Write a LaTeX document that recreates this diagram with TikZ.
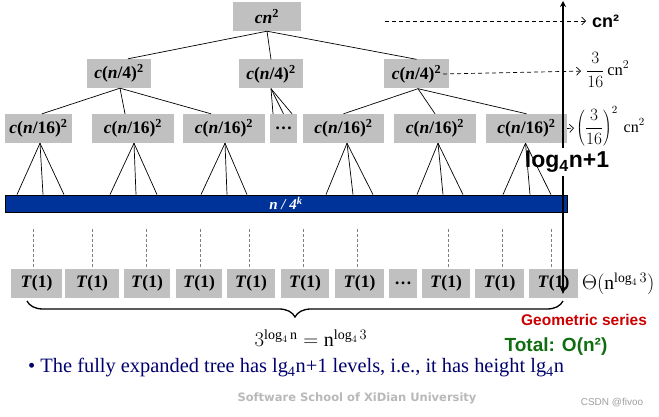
\documentclass[tikz,border=0pt]{standalone}
\usepackage{fontspec}
\setmainfont{Liberation Serif}
\setsansfont{Liberation Sans}
\newfontfamily\dejavu{DejaVu Sans}
\usetikzlibrary{arrows.meta,decorations.pathreplacing,calc}
\definecolor{boxgray}{RGB}{192,192,192}
\definecolor{barblue}{RGB}{0,51,153}
\definecolor{navytext}{RGB}{0,0,110}
\definecolor{redtext}{RGB}{204,0,0}
\definecolor{greentext}{RGB}{16,110,16}
\definecolor{lightgraytext}{RGB}{185,185,185}
\definecolor{csdngray}{RGB}{160,160,160}
\tikzset{
  box/.style={fill=boxgray, inner sep=0pt, minimum height=29pt, font=\fontsize{17.5}{20}\selectfont\rmfamily\bfseries},
  edge/.style={line width=0.7pt},
  vdash/.style={gray, line width=0.6pt, dash pattern=on 3pt off 2pt},
  harr/.style={line width=0.7pt, dash pattern=on 4pt off 3pt, -{Straight Barb[length=4pt,width=8pt]}},
  axis/.style={line width=2pt},
}
\begin{document}
\begin{tikzpicture}[x=1pt,y=-1pt]
\useasboundingbox[fill=white] (0,0) rectangle (659,417);

% tree boxes
\node[box, minimum width=68pt] (root) at (267,16.5) {\textit{cn}\textsuperscript{2}};
\node[box, minimum width=64pt] (l1a) at (119,73.5) {\textit{c}(\textit{n}/4)\textsuperscript{2}};
\node[box, minimum width=64pt] (l1b) at (271,74) {\textit{c}(\textit{n}/4)\textsuperscript{2}};
\node[box, minimum width=65pt] (l1c) at (416.5,74) {\textit{c}(\textit{n}/4)\textsuperscript{2}};

\node[box, minimum width=67pt] (l2a) at (38.5,128.5) {\textit{c}(\textit{n}/16)\textsuperscript{2}};
\node[box, minimum width=82pt] (l2b) at (133,128.5) {\textit{c}(\textit{n}/16)\textsuperscript{2}};
\node[box, minimum width=82pt] (l2c) at (224,128.5) {\textit{c}(\textit{n}/16)\textsuperscript{2}};
\node[box, minimum width=27pt] (l2d) at (283.5,128.5) {…};
\node[box, minimum width=81pt] (l2e) at (343.5,128.5) {\textit{c}(\textit{n}/16)\textsuperscript{2}};
\node[box, minimum width=82pt] (l2f) at (435,128.5) {\textit{c}(\textit{n}/16)\textsuperscript{2}};
\node[box, minimum width=81pt] (l2g) at (526.5,128.5) {\textit{c}(\textit{n}/16)\textsuperscript{2}};

% bar
\node[draw=black, line width=0.8pt, fill=barblue, minimum width=562pt, minimum height=17pt, inner sep=0pt,
      text=white, font=\fontsize{15}{16}\selectfont\rmfamily\bfseries\itshape] (bar) at (286,203.5) {n / 4\textsuperscript{k}};

% T(1) row
\foreach \n/\x/\w in {1/36.5/51, 2/92/54, 3/147/46, 4/199/46, 5/251/48, 6/305/48, 7/359.5/49, 9/446/48, 10/499.5/49, 11/553.5/49}
  \node[box, minimum width=\w pt] (t\n) at (\x,283.5) {\textit{T}(1)};
\node[box, minimum width=28pt] (t8) at (403,283.5) {…};

% edges root -> level 1
\draw[edge] (root.south) -- ([xshift=9pt]l1a.north);
\draw[edge] (root.south) -- (l1b.north);
\draw[edge] (root.south) -- (l1c.north);

% level 1 -> level 2
\draw[edge] ([xshift=1pt]l1a.south) -- ([xshift=3.5pt]l2a.north);
\draw[edge] ([xshift=1pt]l1a.south) -- ([xshift=-8pt]l2b.north);
\draw[edge] ([xshift=1pt]l1a.south) -- ([xshift=-13pt]l2c.north);
\draw[edge] (l1b.south) -- ([xshift=-10.5pt]l2d.north);
\draw[edge] (l1b.south) -- (l2d.north);
\draw[edge] (l1b.south) -- ([xshift=8.5pt]l2d.north);
\draw[edge] ([xshift=1.5pt]l1c.south) -- (l2e.north);
\draw[edge] ([xshift=1.5pt]l1c.south) -- (l2f.north);
\draw[edge] ([xshift=1.5pt]l1c.south) -- (l2g.north);

% level 2 -> bar
\foreach \b/\a/\p/\q/\r in {l2a/1.5/-21.5/4.5/25.5, l2b/1/-23/3/24, l2c/1/-23/3/23, l2e/3.5/-17.5/9.5/29.5, l2f/3/-18/8/28, l2g/-1/-23.5/3.5/24.5}{
  \draw[edge] ([xshift=\a pt]\b.south) -- ([xshift=\p pt]\b.south |- bar.north);
  \draw[edge] ([xshift=\a pt]\b.south) -- ([xshift=\q pt]\b.south |- bar.north);
  \draw[edge] ([xshift=\a pt]\b.south) -- ([xshift=\r pt]\b.south |- bar.north);
}

% dashed verticals above T(1)
\foreach \n/\d in {1/-3.5, 2/0, 3/-1, 4/1, 5/-2, 6/-2, 7/-2.5, 9/2, 10/2.5, 11/-2.5}
  \draw[vdash] ([xshift=\d pt, yshift=2pt]t\n.north) -- ([xshift=\d pt, yshift=41pt]t\n.north);

% right-hand level sums
\coordinate (c0) at (385,21);
\node[anchor=west, inner sep=0pt, font=\fontsize{18}{20}\selectfont\sffamily\bfseries] (s0) at (592,21) {cn²};
\node[anchor=west, inner sep=0pt, font=\fontsize{16.5}{20}\selectfont] (s1) at (586,70) {$\displaystyle\frac{3}{16}\,\mathrm{cn}^{2}$};
\node[anchor=west, inner sep=0pt, font=\fontsize{16}{20}\selectfont] (s2) at (576,126.5) {$\displaystyle\left(\frac{3}{16}\right)^{2}\,\mathrm{cn}^{2}$};
\draw[harr, shorten >=6pt] (c0) -- (s0.west);
\draw[harr, shorten >=5pt] ([xshift=-6pt]l1c.east) -- ([yshift=-1pt]s1.west);
\draw[harr, shorten >=2pt] (l2g.east) -- ([yshift=-1.5pt]s2.west);

% height axis
\coordinate (axtop) at (563,1);
\coordinate (axbot) at (563,294);
\node[inner xsep=0pt, inner ysep=3pt, font=\fontsize{23}{26}\selectfont\sffamily\bfseries] (lg) at (567,162) {log\textsubscript{4}n+1};
\draw[axis, {Stealth[length=6pt,width=6pt]}-] (axtop) -- (axtop |- lg.north);
\draw[axis, -{Stealth[length=8pt,width=7pt]}] (axtop |- lg.south) -- (axbot);

% brace
\coordinate (bl) at (27,301);
\coordinate (br) at (563,301);
\draw[line width=1.3pt, decorate, decoration={brace, mirror, amplitude=16pt}] (bl) -- (br);

% formulas
\node[font=\fontsize{20}{22}\selectfont] (eq) at (311,338) {$3^{\log_4\mathrm{n}} = \mathrm{n}^{\log_4 3}$};
\node[anchor=west, inner sep=0pt, font=\fontsize{19.5}{22}\selectfont] (theta) at (582,284) {$\Theta(\mathrm{n}^{\log_4 3})$};

\node[text=redtext, font=\fontsize{15.5}{18}\selectfont\sffamily\bfseries] (geo) at (584,320) {Geometric series};
\node[text=greentext, font=\fontsize{19}{22}\selectfont\sffamily\bfseries] (tot) at (556,347) {Total: O(n²)};

\node[anchor=west, inner sep=0pt, text=navytext, font=\fontsize{20.4}{22}\selectfont] (bul) at (28,368)
  {• The fully expanded tree has lg\textsubscript{4}n+1 levels, i.e., it has height lg\textsubscript{4}n};

\node[text=lightgraytext, font=\fontsize{11.5}{14}\selectfont\dejavu\bfseries] (sch) at (357,398) {Software School of XiDian University};
\node[text=csdngray, font=\fontsize{10}{12}\selectfont\sffamily] (csdn) at (612,403) {CSDN @fivoo};
\end{tikzpicture}
\end{document}
